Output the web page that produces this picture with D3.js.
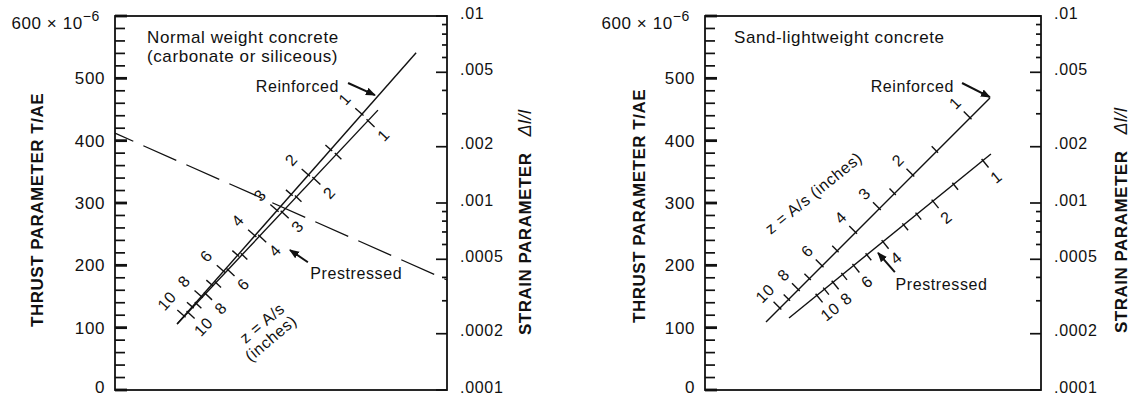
<!DOCTYPE html>
<html>
<head>
<meta charset="utf-8">
<script src="https://cdn.jsdelivr.net/npm/d3@7"></script>
<style>
body { margin: 0; background: #fff; }
svg text { font-family: "Liberation Sans", Arial, Helvetica, sans-serif; fill: #111; }
</style>
</head>
<body>
<svg id="chart" width="1131" height="398"></svg>
<script>
// axis values
var thrustLabels = [0, 100, 200, 300, 400, 500, 600];
var thrustMinor = d3.range(0, 601, 20);
var strainLabels = [0.0001, 0.0002, 0.0005, 0.001, 0.002, 0.005, 0.01];

// z = A/s scale values
var zLabels = [10, 8, 6, 4, 3, 2, 1];
var zLabelsSandPre = [10, 8, 6, 4, 2, 1];
var zMinor = [9, 7, 5, 2.5, 1.5];
var zMinorSandPre = [9, 7, 5, 3, 2.5, 1.5];

// lines as [x (0-100 across panel), T/AE x 10^6]
var normalReinforced = [[18.7, 106], [90.7, 541]];
var normalPrestressed = [[18.7, 106], [79.2, 449]];
var sandReinforced = [[18.15, 109], [84.8, 468.5]];
var sandPrestressed = [[25.0, 115.5], [85.1, 378.6]];
var normalDivider = [[0, 412], [100, 176.5]];

// x position of z = 1 and z = 10 on each line
var normalReinforcedZ = [74.4, 20.8];
var normalPrestressedZ = [76.2, 22.0];
var sandReinforcedZ = [78.9, 22.3];
var sandPrestressedZ = [82.7, 33.3];

var svg = d3.select("#chart");
var top0 = 16, bottom0 = 390;

svg.append("defs").append("marker")
    .attr("id", "head")
    .attr("viewBox", "0 0 10 10")
    .attr("refX", 9).attr("refY", 5)
    .attr("markerWidth", 5).attr("markerHeight", 5)
    .attr("markerUnits", "strokeWidth")
    .attr("orient", "auto")
    .append("path")
    .attr("d", "M0,1 L10,5 L0,9 z")
    .attr("fill", "#111");

function fmtStrain(d) {
    return String(d).replace(/^0/, "");
}

function drawPanel(p) {
    var g = svg.append("g");
    var x = d3.scaleLinear().domain([0, 100]).range([p.left, p.right]);
    var y = d3.scaleLinear().domain([0, 600]).range([bottom0, top0]);
    var s = d3.scaleLog().domain([0.0001, 0.01]).range([bottom0, top0]);

    // inward ticks, left (thrust)
    g.selectAll(null).data(thrustMinor).enter().append("line")
        .attr("x1", p.left)
        .attr("x2", function(d) { return p.left + (d % 100 === 0 ? 12 : 10); })
        .attr("y1", function(d) { return y(d); })
        .attr("y2", function(d) { return y(d); })
        .attr("stroke", "#111")
        .attr("stroke-width", function(d) { return d % 100 === 0 ? 2.8 : 1.7; });

    // inward ticks, right (strain, log)
    g.selectAll(null).data(s.ticks()).enter().append("line")
        .attr("x1", p.right)
        .attr("x2", function(d) { return p.right - (strainLabels.indexOf(d) >= 0 ? 11 : 5); })
        .attr("y1", function(d) { return s(d); })
        .attr("y2", function(d) { return s(d); })
        .attr("stroke", "#111").attr("stroke-width", 1.7);

    // labels through the axes
    var majorL = g.append("g")
        .attr("transform", "translate(" + p.left + ",0)")
        .call(d3.axisLeft(y).tickValues(thrustLabels).tickSize(0).tickPadding(10)
            .tickFormat(function(d) { return d === 600 ? "" : d; }));
    majorL.selectAll("text").attr("font-size", "17px").attr("letter-spacing", "0.6px").attr("fill", "#111")
        .attr("y", function(d) { return d === 0 ? -3 : 0; });

    var majorR = g.append("g")
        .attr("transform", "translate(" + p.right + ",0)")
        .call(d3.axisRight(s).tickValues(strainLabels).tickSize(0).tickPadding(13).tickFormat(fmtStrain));
    majorR.selectAll("text").attr("font-size", "16px").attr("letter-spacing", "0.7px")
        .attr("y", -3).attr("fill", "#111");

    g.selectAll(".domain").remove();

    // frame
    g.append("rect")
        .attr("x", p.left).attr("y", top0)
        .attr("width", p.right - p.left).attr("height", bottom0 - top0)
        .attr("fill", "none").attr("stroke", "#111").attr("stroke-width", 1.8);

    // 600 x 10^-6
    var t6 = g.append("text")
        .attr("x", p.left - 15).attr("y", 29)
        .attr("text-anchor", "end")
        .attr("font-size", "17px").attr("letter-spacing", "0.6px");
    t6.append("tspan").text("600 \u00d7 10");
    t6.append("tspan").attr("dy", -8).attr("font-size", "14px").text("\u22126");

    // axis titles
    g.append("text")
        .attr("transform", "translate(" + p.leftTitleX + "," + p.leftTitleY + ") rotate(-90)")
        .attr("text-anchor", "middle").attr("dy", "0.35em")
        .attr("font-size", "17px").attr("font-weight", "bold").attr("letter-spacing", "0.5px")
        .text("THRUST PARAMETER T/AE");
    var rt = g.append("text")
        .attr("transform", "translate(" + p.rightTitleX + "," + p.rightTitleY + ") rotate(-90)")
        .attr("text-anchor", "start").attr("dy", "0.35em")
        .attr("font-size", "17px").attr("letter-spacing", "0.5px");
    rt.append("tspan").attr("font-weight", "bold").text("STRAIN PARAMETER");
    rt.append("tspan").attr("dx", 16).attr("font-style", "italic").attr("font-size", "18px")
        .text("\u0394l/l");

    // title
    p.title.forEach(function(t, i) {
        g.append("text")
            .attr("x", p.titleX).attr("y", 43 + i * 19)
            .attr("font-size", "17px").attr("letter-spacing", "0.6px")
            .text(t);
    });

    p.scales.forEach(function(sc) {
        drawScale(g, x, y, sc);
    });

    if (p.divider) {
        g.append("line")
            .attr("x1", x(p.divider[0][0])).attr("y1", y(p.divider[0][1]))
            .attr("x2", x(p.divider[1][0])).attr("y2", y(p.divider[1][1]))
            .attr("stroke", "#111").attr("stroke-width", 1.3)
            .attr("stroke-dasharray", "36 11").attr("stroke-dashoffset", 16);
    }

    p.notes.forEach(function(n) {
        g.append("text")
            .attr("transform", "translate(" + x(n.at[0]) + "," + y(n.at[1]) + ") rotate(" + (n.rotate || 0) + ")")
            .attr("text-anchor", n.anchor || "middle")
            .attr("dy", "0.35em")
            .attr("font-size", (n.size || 16) + "px").attr("letter-spacing", "0.6px")
            .text(n.text);
    });

    p.arrows.forEach(function(a) {
        g.append("line")
            .attr("x1", x(a[0][0])).attr("y1", y(a[0][1]))
            .attr("x2", x(a[1][0])).attr("y2", y(a[1][1]))
            .attr("stroke", "#111").attr("stroke-width", 2)
            .attr("marker-end", "url(#head)");
    });
}

function drawScale(g, x, y, sc) {
    var line = sc.line;
    var p0 = [x(line[0][0]), y(line[0][1])];
    var p1 = [x(line[1][0]), y(line[1][1])];
    g.append("line")
        .attr("x1", p0[0]).attr("y1", p0[1]).attr("x2", p1[0]).attr("y2", p1[1])
        .attr("stroke", "#111").attr("stroke-width", 1.4);

    var dx = p1[0] - p0[0], dy = p1[1] - p0[1], len = Math.sqrt(dx * dx + dy * dy);
    var ux = dx / len, uy = dy / len;
    var nx = sc.side * uy, ny = -sc.side * ux;
    var angle = Math.atan2(uy, ux) * 180 / Math.PI;
    var off = sc.labelOffset || 21;

    var zx = d3.scaleLog().domain([1, 10]).range(sc.z);
    var ty = d3.scaleLinear().domain([line[0][0], line[1][0]]).range([line[0][1], line[1][1]]);
    function pt(z) {
        var xv = zx(z);
        return [x(xv), y(ty(xv))];
    }

    var ticks = sc.labels.map(function(z) { return {z: z, len: 9}; })
        .concat(sc.minor.map(function(z) { return {z: z, len: 7}; }));
    g.selectAll(null).data(ticks).enter().append("line")
        .attr("x1", function(d) { return pt(d.z)[0] - nx * 2; })
        .attr("y1", function(d) { return pt(d.z)[1] - ny * 2; })
        .attr("x2", function(d) { return pt(d.z)[0] + nx * d.len; })
        .attr("y2", function(d) { return pt(d.z)[1] + ny * d.len; })
        .attr("stroke", "#111").attr("stroke-width", 1.4);

    g.selectAll(null).data(sc.labels).enter().append("text")
        .attr("transform", function(d) {
            var q = pt(d);
            return "translate(" + (q[0] + nx * off) + "," + (q[1] + ny * off) + ") rotate(" + angle + ")";
        })
        .attr("text-anchor", "middle").attr("dy", "0.35em")
        .attr("font-size", "16px").attr("letter-spacing", "0.6px")
        .text(function(d) { return d; });
}

drawPanel({
    left: 115, right: 447,
    leftTitleX: 37, leftTitleY: 210,
    rightTitleX: 525, rightTitleY: 335,
    titleX: 147,
    title: ["Normal weight concrete", "(carbonate or siliceous)"],
    scales: [
        {line: normalReinforced, z: normalReinforcedZ, labels: zLabels, minor: zMinor, side: 1, labelOffset: 23},
        {line: normalPrestressed, z: normalPrestressedZ, labels: zLabels, minor: zMinor, side: -1}
    ],
    divider: normalDivider,
    notes: [
        {text: "Reinforced", at: [67.5, 487], anchor: "end"},
        {text: "Prestressed", at: [58.8, 187], anchor: "start"},
        {text: "z = A/s", at: [44.3, 107.5], rotate: -40, size: 16},
        {text: "(inches)", at: [46.9, 83], rotate: -40, size: 16}
    ],
    arrows: [
        [[70.2, 492.5], [78.3, 473]],
        [[58.1, 205], [52.7, 224.6]]
    ]
});

drawPanel({
    left: 705, right: 1041,
    leftTitleX: 639, leftTitleY: 206,
    rightTitleX: 1121, rightTitleY: 333,
    titleX: 734,
    title: ["Sand-lightweight concrete"],
    scales: [
        {line: sandReinforced, z: sandReinforcedZ, labels: zLabels, minor: zMinor, side: 1},
        {line: sandPrestressed, z: sandPrestressedZ, labels: zLabelsSandPre, minor: zMinorSandPre, side: -1}
    ],
    divider: null,
    notes: [
        {text: "Reinforced", at: [49.3, 487], anchor: "start"},
        {text: "Prestressed", at: [56.7, 170], anchor: "start"},
        {text: "z = A/s (inches)", at: [32.3, 316], rotate: -39, size: 16}
    ],
    arrows: [
        [[76.5, 492.5], [84.8, 470]],
        [[56.5, 189], [51.5, 220]]
    ]
});
</script>
</body>
</html>
